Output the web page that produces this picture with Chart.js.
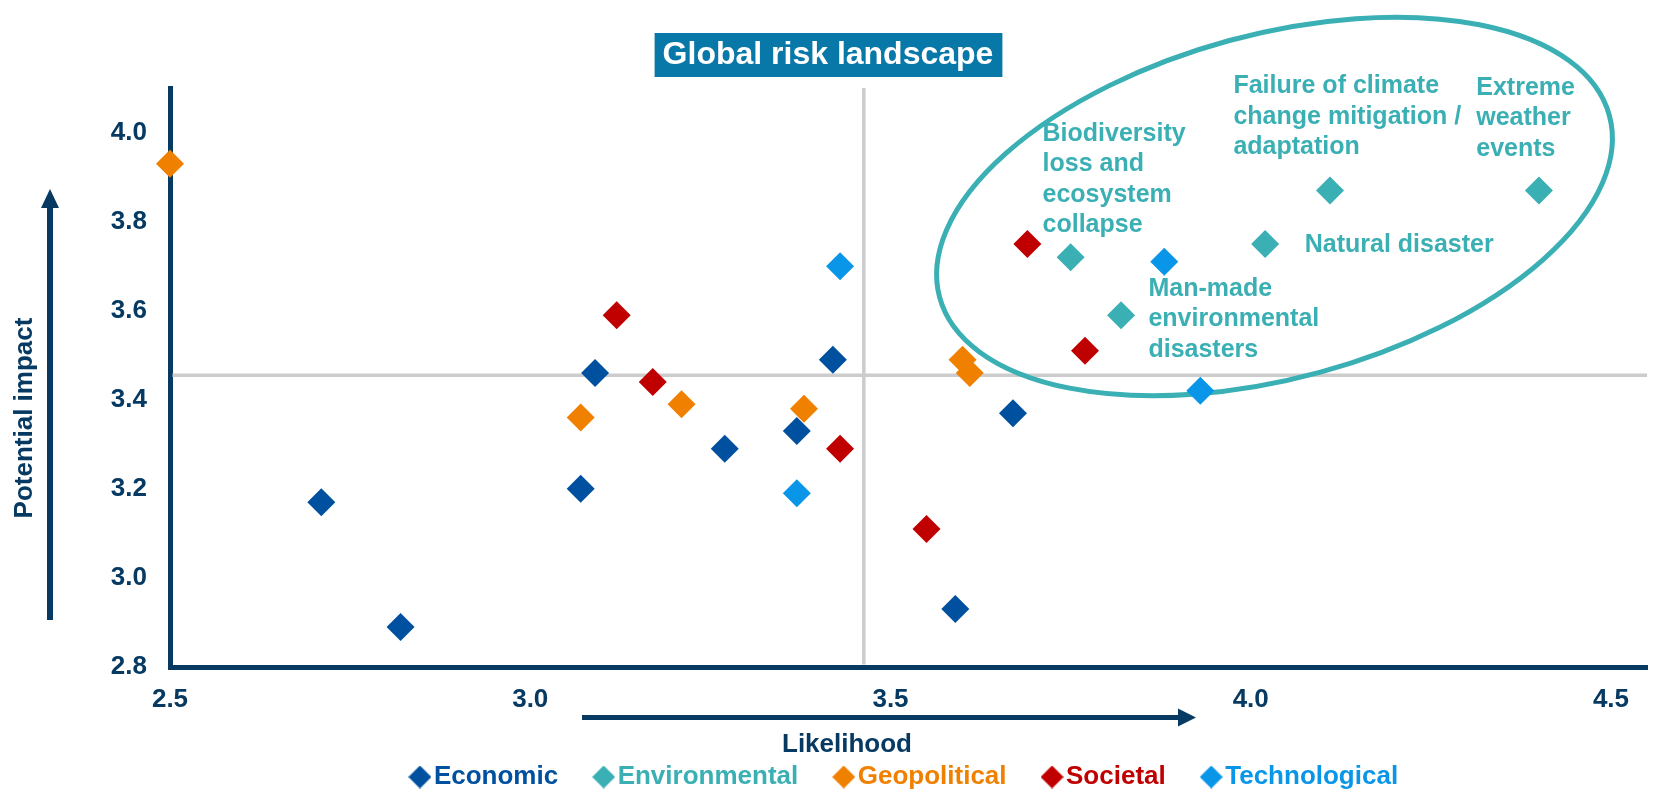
<!DOCTYPE html>
<html>
<head>
<meta charset="utf-8">
<script src="https://cdn.jsdelivr.net/npm/chart.js@4/dist/chart.umd.min.js"></script>
<style>
html,body{margin:0;padding:0;background:#ffffff;}
#wrap{width:1661px;height:800px;position:relative;}
</style>
</head>
<body>
<div id="wrap"><canvas id="c" width="1661" height="800"></canvas></div>
<script>
// ---------- data ----------
const categories = ['Economic', 'Environmental', 'Geopolitical', 'Societal', 'Technological'];
// [likelihood, impact]
const economic      = [[2.71,3.17],[2.82,2.89],[3.07,3.20],[3.09,3.46],[3.27,3.29],[3.37,3.33],[3.42,3.49],[3.59,2.93],[3.67,3.37]];
const environmental = [[3.75,3.72],[3.82,3.59],[4.02,3.75],[4.11,3.87],[4.40,3.87]];
const geopolitical  = [[2.50,3.93],[3.07,3.36],[3.21,3.39],[3.38,3.38],[3.60,3.49],[3.61,3.46]];
const societal      = [[3.12,3.59],[3.17,3.44],[3.43,3.29],[3.55,3.11],[3.69,3.75],[3.77,3.51]];
const technological = [[3.43,3.70],[3.37,3.19],[3.88,3.71],[3.93,3.42]];
const xTicks = [2.5, 3.0, 3.5, 4.0, 4.5];
const yTicks = [2.8, 3.0, 3.2, 3.4, 3.6, 3.8, 4.0];
const averageLikelihood = 3.463;
const averageImpact = 3.455;
const chartTitle = 'Global risk landscape';
const xTitle = 'Likelihood';
const yTitle = 'Potential impact';
const riskLabels = [
  { lines: ['Biodiversity', 'loss and', 'ecosystem', 'collapse'], x: 3.711, y: 3.997 },
  { lines: ['Failure of climate', 'change mitigation /', 'adaptation'], x: 3.976, y: 4.104 },
  { lines: ['Extreme', 'weather', 'events'], x: 4.313, y: 4.100 },
  { lines: ['Natural disaster'], x: 4.075, y: 3.747 },
  { lines: ['Man-made', 'environmental', 'disasters'], x: 3.858, y: 3.649 }
];
const focusEllipse = { x: 4.033, y: 3.834 };

// ---------- styles ----------
const FONT = '"Liberation Sans", Arial, sans-serif';
const NAVY = '#063a62';
const colors = ['#0050a0', '#3aafb4', '#f08000', '#c00000', '#0a96e8'];
const seriesData = [economic, environmental, geopolitical, societal, technological];

function diamondIcon(color) {
  const c = document.createElement('canvas');
  c.width = 23; c.height = 23;
  const g = c.getContext('2d');
  g.fillStyle = color;
  g.beginPath();
  g.moveTo(11.5, 0); g.lineTo(23, 11.5); g.lineTo(11.5, 23); g.lineTo(0, 11.5);
  g.closePath(); g.fill();
  return c;
}
const legendIcons = colors.map(diamondIcon);

const decorPlugin = {
  id: 'decor',
  beforeDraw(chart) {
    const ctx = chart.ctx;
    const tb = chart.titleBlock;
    ctx.save();
    ctx.font = 'bold 32px ' + FONT;
    const w = ctx.measureText(chartTitle).width;
    const cx = (tb.left + tb.right) / 2;
    const cy = tb.top + 35.8 + 19.2;
    ctx.fillStyle = '#0878a8';
    ctx.fillRect(cx - w / 2 - 8, cy - 22, w + 17, 44);
    ctx.restore();
  },
  beforeDatasetsDraw(chart) {
    const ctx = chart.ctx, xs = chart.scales.x, ys = chart.scales.y, a = chart.chartArea;
    ctx.save();
    // average lines
    ctx.strokeStyle = '#cccccc';
    ctx.lineWidth = 3.5;
    const vx = xs.getPixelForValue(averageLikelihood);
    const hy = ys.getPixelForValue(averageImpact);
    ctx.beginPath();
    ctx.moveTo(vx, a.top); ctx.lineTo(vx, a.bottom - 2.5);
    ctx.moveTo(a.left + 2.5, hy); ctx.lineTo(a.right, hy);
    ctx.stroke();
    // highlight ellipse
    ctx.beginPath();
    ctx.ellipse(xs.getPixelForValue(focusEllipse.x), ys.getPixelForValue(focusEllipse.y), 347, 172, -15.2 * Math.PI / 180, 0, Math.PI * 2);
    ctx.lineWidth = 5;
    ctx.strokeStyle = colors[1];
    ctx.stroke();
    ctx.restore();
  },
  afterDatasetsDraw(chart) {
    const ctx = chart.ctx, xs = chart.scales.x, ys = chart.scales.y;
    ctx.save();
    ctx.font = 'bold 25px ' + FONT;
    ctx.fillStyle = colors[1];
    ctx.textAlign = 'left';
    ctx.textBaseline = 'middle';
    riskLabels.forEach(l => {
      const px = xs.getPixelForValue(l.x), py = ys.getPixelForValue(l.y);
      l.lines.forEach((t, i) => ctx.fillText(t, px, py + i * 30.5));
    });
    ctx.restore();
  },
  afterDraw(chart) {
    const ctx = chart.ctx;
    ctx.save();
    ctx.fillStyle = NAVY;
    // vertical arrow
    ctx.fillRect(47, 207, 6, 413);
    ctx.beginPath(); ctx.moveTo(41, 208); ctx.lineTo(50, 189); ctx.lineTo(59, 208); ctx.closePath(); ctx.fill();
    // horizontal arrow
    ctx.fillRect(582, 715, 598, 5);
    ctx.beginPath(); ctx.moveTo(1178, 708.5); ctx.lineTo(1196, 717.5); ctx.lineTo(1178, 726.5); ctx.closePath(); ctx.fill();
    // axis titles
    ctx.font = 'bold 26px ' + FONT;
    ctx.textAlign = 'center';
    ctx.textBaseline = 'middle';
    ctx.fillText(xTitle, 847, 745);
    ctx.translate(25, 418);
    ctx.rotate(-Math.PI / 2);
    ctx.fillText(yTitle, 0, 0);
    ctx.restore();
  }
};

new Chart(document.getElementById('c'), {
  type: 'scatter',
  data: {
    datasets: categories.map((name, i) => ({
      label: name,
      data: seriesData[i].map(p => ({ x: p[0], y: p[1] })),
      backgroundColor: colors[i],
      borderColor: colors[i],
      pointStyle: 'rectRot',
      pointRadius: 14,
      pointHoverRadius: 14,
      pointBorderWidth: 0,
      clip: false
    }))
  },
  options: {
    responsive: false,
    animation: false,
    layout: { padding: { left: 0, right: 5, top: 0, bottom: 0 } },
    plugins: {
      title: {
        display: true,
        text: chartTitle,
        color: '#ffffff',
        font: { family: FONT, size: 32, weight: 'bold' },
        padding: { top: 35.8, bottom: 13.8 }
      },
      legend: {
        position: 'bottom',
        fullSize: false,
        labels: {
          usePointStyle: true,
          pointStyleWidth: 2,
          padding: 44.5,
          font: { family: FONT, size: 26, weight: 'bold' },
          generateLabels: (chart) => chart.data.datasets.map((ds, i) => ({
            text: ds.label,
            fillStyle: colors[i],
            strokeStyle: colors[i],
            fontColor: colors[i],
            lineWidth: 0,
            pointStyle: legendIcons[i],
            hidden: !chart.isDatasetVisible(i),
            datasetIndex: i
          }))
        }
      },
      tooltip: { enabled: false }
    },
    scales: {
      x: {
        type: 'linear',
        min: 2.5,
        max: 4.55,
        afterBuildTicks: (s) => { s.ticks = xTicks.map(v => ({ value: v })); },
        afterFit: (s) => { s.height = 52.5; s.paddingLeft = 0; s.paddingRight = 0; },
        grid: { display: false, drawTicks: false },
        border: { display: true, color: NAVY, width: 5 },
        ticks: {
          padding: 17,
          color: NAVY,
          font: { family: FONT, size: 26, weight: 'bold' },
          callback: (v) => Number(v).toFixed(1)
        }
      },
      y: {
        type: 'linear',
        min: 2.8,
        max: 4.1,
        afterBuildTicks: (s) => { s.ticks = yTicks.map(v => ({ value: v })); },
        afterFit: (s) => { s.width = 170; },
        grid: { display: false, drawTicks: false },
        border: { display: true, color: NAVY, width: 5 },
        ticks: {
          padding: 23,
          color: NAVY,
          font: { family: FONT, size: 26, weight: 'bold' },
          callback: (v) => Number(v).toFixed(1)
        }
      }
    }
  },
  plugins: [decorPlugin]
});
</script>
</body>
</html>
